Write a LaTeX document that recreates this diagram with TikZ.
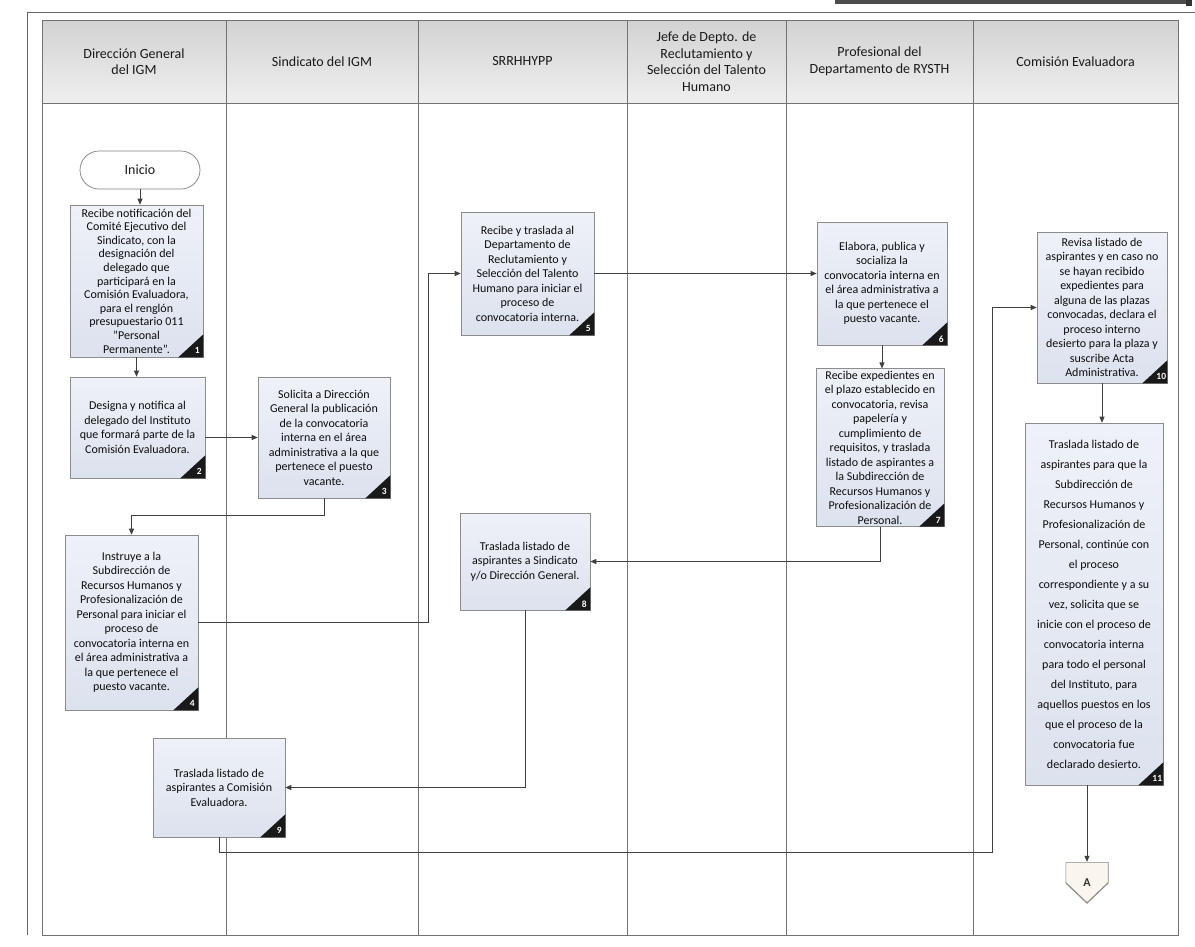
\documentclass[tikz,border=0pt]{standalone}
\usepackage{fontspec}
\setmainfont{Carlito}
\usetikzlibrary{arrows.meta,calc}
\definecolor{procTop}{HTML}{EEF1F8}
\definecolor{procBot}{HTML}{DCE2EE}
\definecolor{hdrTop}{HTML}{D2D2D2}
\definecolor{hdrBot}{HTML}{EFEFEF}
\definecolor{connFill}{HTML}{FAF6EE}
\newcommand{\boxfont}{\fontsize{12}{14.5}\selectfont}
\newcommand{\hdrfont}{\fontsize{14}{16.5}\selectfont}
\tikzset{
  proc/.style={draw=black!45, line width=0.6pt, top color=procTop, bottom color=procBot,
    align=center, inner sep=2pt, font=\boxfont, text=black!95},
  hdr/.style={draw=black!55, line width=0.6pt, top color=hdrTop, bottom color=hdrBot,
    align=center, inner sep=0pt, font=\hdrfont, text=black!90,
    minimum height=83pt},
  term/.style={draw=black!50, line width=0.7pt, fill=white, rounded corners=19pt,
    minimum width=120pt, minimum height=38pt, font=\fontsize{14}{16}\selectfont, text=black!90},
  conn/.style={draw=black!75, line width=0.8pt, -{Triangle[length=6pt,width=5pt]}},
  lane/.style={draw=black!55, line width=0.6pt},
  badgenum/.style={text=white, font=\bfseries\fontsize{9.5}{10}\selectfont, inner sep=0pt},
  offpage/.style={minimum width=43pt, minimum height=41pt, inner sep=0pt,
    font=\bfseries\fontsize{12}{14}\selectfont, text=black!80,
    path picture={\draw[fill=connFill, draw=black!45, line width=1.2pt]
      (path picture bounding box.north west) -- (path picture bounding box.north east)
      -- (path picture bounding box.east) -- (path picture bounding box.south)
      -- (path picture bounding box.west) -- cycle;}}
}
\newcommand{\badge}[2]{%
  \fill[black!90] (#1.south east) -- ++(-25,0) -- ++(25,-23) -- cycle;
  \node[badgenum] (n#1) at ([xshift=-6pt,yshift=6.5pt]#1.south east) {#2};
}
\begin{document}
\begin{tikzpicture}[x=1pt,y=-1pt]
\useasboundingbox (0,0) rectangle (1195,946);
\fill[white] (0,0) rectangle (1195,946);
% outer frame
\draw[black!60, line width=0.8pt] (27,935) -- (27,12) -- (1195,12);
\fill[black!70] (835,0) rectangle (1192,4);
\fill[black!80] (1186,0) rectangle (1192,6);
% lanes
\foreach \xa/\xb in {42/226,226/418,418/627,627/786,786/973,973/1178}{
  \draw[lane] (\xa,103) rectangle (\xb,935);
}
% headers
\node[hdr, minimum width=184pt] (h1) at (134,61.5) {Dirección General\\del IGM};
\node[hdr, minimum width=192pt] (h2) at (322,61.5) {Sindicato del IGM};
\node[hdr, minimum width=209pt] (h3) at (522.5,61.5) {SRRHHYPP};
\node[hdr, minimum width=159pt] (h4) at (706.5,61.5) {Jefe de Depto. de\\Reclutamiento y\\Selección del Talento\\Humano};
\node[hdr, minimum width=187pt] (h5) at (879.5,61.5) {Profesional del\\Departamento de RYSTH};
\node[hdr, minimum width=205pt] (h6) at (1075.5,61.5) {Comisión Evaluadora};

% nodes
\node[term] (ini) at (140,170) {Inicio};
\node[proc, minimum width=133pt, minimum height=152pt, font=\fontsize{12}{13.6}\selectfont] (b1) at (136.5,281)
 {Recibe notificación del\\Comité Ejecutivo del\\Sindicato, con la\\designación del\\delegado que\\participará en la\\Comisión Evaluadora,\\para el renglón\\presupuestario 011\\"Personal\\Permanente".};
\node[proc, minimum width=135pt, minimum height=101pt] (b2) at (137.5,427.5)
 {Designa y notifica al\\delegado del Instituto\\que formará parte de la\\Comisión Evaluadora.};
\node[proc, minimum width=132pt, minimum height=121pt] (b3) at (324,437.5)
 {Solicita a Dirección\\General la publicación\\de la convocatoria\\interna en el área\\administrativa a la que\\pertenece el puesto\\vacante.};
\node[proc, minimum width=133pt, minimum height=175pt] (b4) at (131.5,622.5)
 {Instruye a la\\Subdirección de\\Recursos Humanos y\\Profesionalización de\\Personal para iniciar el\\proceso de\\convocatoria interna en\\el área administrativa a\\la que pertenece el\\puesto vacante.};
\node[proc, minimum width=133pt, minimum height=123pt] (b5) at (527.5,273.5)
 {Recibe y traslada al\\Departamento de\\Reclutamiento y\\Selección del Talento\\Humano para iniciar el\\proceso de\\convocatoria interna.};
\node[proc, minimum width=130pt, minimum height=123pt] (b6) at (882,283.5)
 {Elabora, publica y\\socializa la\\convocatoria interna en\\el área administrativa a\\la que pertenece el\\puesto vacante.};
\node[proc, minimum width=128pt, minimum height=155pt] (b7) at (880,447.5)
 {Recibe expedientes en\\el plazo establecido en\\convocatoria, revisa\\papelería y\\cumplimiento de\\requisitos, y traslada\\listado de aspirantes a\\la Subdirección de\\Recursos Humanos y\\Profesionalización de\\Personal.};
\node[proc, minimum width=130pt, minimum height=97pt] (b8) at (525,561.5)
 {Traslada listado de\\aspirantes a Sindicato\\y/o Dirección General.};
\node[proc, minimum width=132pt, minimum height=99pt] (b9) at (219,787.5)
 {Traslada listado de\\aspirantes a Comisión\\Evaluadora.};
\node[proc, minimum width=130pt, minimum height=151pt] (b10) at (1102,307.5)
 {Revisa listado de\\aspirantes y en caso no\\se hayan recibido\\expedientes para\\alguna de las plazas\\convocadas, declara el\\proceso interno\\desierto para la plaza y\\suscribe Acta\\Administrativa.};
\node[proc, minimum width=138pt, minimum height=362pt, font=\fontsize{12}{20}\selectfont] (b11) at (1094,604)
 {Traslada listado de\\aspirantes para que la\\Subdirección de\\Recursos Humanos y\\Profesionalización de\\Personal, continúe con\\el proceso\\correspondiente y a su\\vez, solicita que se\\inicie con el proceso de\\convocatoria interna\\para todo el personal\\del Instituto, para\\aquellos puestos en los\\que el proceso de la\\convocatoria fue\\declarado desierto.};
\node[offpage] (A) at (1087,882.5) {A};

% badges
\badge{b1}{1}
\badge{b2}{2}
\badge{b3}{3}
\badge{b4}{4}
\badge{b5}{5}
\badge{b6}{6}
\badge{b7}{7}
\badge{b8}{8}
\badge{b9}{9}
\badge{b10}{10}
\badge{b11}{11}

% helper coordinates
\coordinate (k1) at (0,515);
\coordinate (k2) at (428,0);
\coordinate (k4) at (0,852);
\coordinate (k5) at (992,0);

% connectors
\draw[conn] (ini.south) -- (ini.south |- b1.north);
\draw[conn] (b1.south) -- (b1.south |- b2.north);
\draw[conn] (b2.east |- b3.west) -- (b3.west);
\draw[conn] (b3.south) -- (b3.south |- k1) -| (b4.north);
\draw[conn] (b4.east) -- (b4.east -| k2) |- (b5.west);
\draw[conn] (b5.east) -- (b5.east -| b6.west);
\draw[conn] (b6.south) -- (b6.south |- b7.north);
\draw[conn] (b7.south) |- (b8.east);
\draw[conn] (b8.south) |- (b9.east);
\draw[conn] (b9.south) -- (b9.south |- k4) -- (k5 |- k4) |- (b10.west);
\draw[conn] (b10.south) -- (b10.south |- b11.north);
\draw[conn] (A.north |- b11.south) -- (A.north);
\end{tikzpicture}
\end{document}
